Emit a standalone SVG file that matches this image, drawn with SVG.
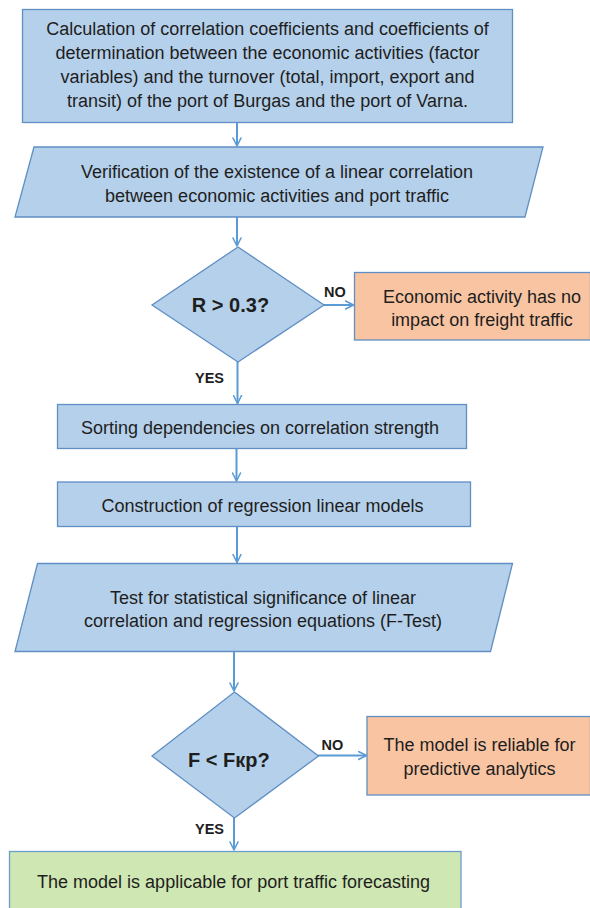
<svg xmlns="http://www.w3.org/2000/svg" width="590" height="908" viewBox="0 0 590 908">
<style>
.blue{fill:#b5d0ea;stroke:#5f8fc4;stroke-width:1.3}
.orange{fill:#f8c4a2;stroke:#5f8fc4;stroke-width:1.3}
.green{fill:#cfe7b2;stroke:#6c9bd0;stroke-width:1.3}
.t{font-family:"Liberation Sans",Arial,sans-serif;font-size:18px;fill:#1e1e1e;text-anchor:middle}
.d{font-family:"Liberation Sans",Arial,sans-serif;font-size:20px;font-weight:bold;fill:#1e1e1e;text-anchor:middle}
.l{font-family:"Liberation Sans",Arial,sans-serif;font-size:14.5px;font-weight:bold;fill:#1e1e1e}
.c{stroke:#5b9bd5;stroke-width:2;fill:none}
</style>
<defs>
<marker id="arr" viewBox="0 0 10 10" refX="9" refY="5" markerWidth="5" markerHeight="5" orient="auto" markerUnits="strokeWidth">
<polyline points="1,1 9,5 1,9" fill="none" stroke="#5b9bd5" stroke-width="1.6" stroke-linecap="round" stroke-linejoin="round"/>
</marker>
</defs>
<g id="connectors">
<line class="c" x1="237" y1="123" x2="237" y2="146" marker-end="url(#arr)"/>
<line class="c" x1="237" y1="217" x2="237" y2="246" marker-end="url(#arr)"/>
<line class="c" x1="324" y1="305" x2="353.5" y2="305" marker-end="url(#arr)"/>
<line class="c" x1="237.5" y1="362" x2="237.5" y2="403.5" marker-end="url(#arr)"/>
<line class="c" x1="236.5" y1="448.5" x2="236.5" y2="481" marker-end="url(#arr)"/>
<line class="c" x1="237" y1="527" x2="237" y2="562.5" marker-end="url(#arr)"/>
<line class="c" x1="234" y1="652" x2="234" y2="691" marker-end="url(#arr)"/>
<line class="c" x1="318" y1="755.5" x2="366.5" y2="755.5" marker-end="url(#arr)"/>
<line class="c" x1="234" y1="818" x2="234" y2="850" marker-end="url(#arr)"/>
<text class="l" x="324" y="297">NO</text>
<text class="l" x="195" y="383">YES</text>
<text class="l" x="321.5" y="750">NO</text>
<text class="l" x="195" y="834">YES</text>
</g>
<g id="n1">
<rect class="blue" x="22.5" y="9.5" width="490" height="113"/>
<text class="t" x="267.5" y="34.5">Calculation of correlation coefficients and coefficients of</text>
<text class="t" x="267.5" y="58.5">determination between the economic activities (factor</text>
<text class="t" x="267.5" y="82.5">variables) and the turnover (total, import, export and</text>
<text class="t" x="267.5" y="106.5">transit) of the port of Burgas and the port of Varna.</text>
</g>
<g id="n2">
<polygon class="blue" points="34,147 543,147 525,217 15,217"/>
<text class="t" x="277" y="178">Verification of the existence of a linear correlation</text>
<text class="t" x="277" y="201.5">between economic activities and port traffic</text>
</g>
<g id="n3">
<polygon class="blue" points="238,247 324,305 238,362 152,305"/>
<text class="d" x="230.5" y="312">R &gt; 0.3?</text>
</g>
<g id="n4">
<rect class="orange" x="354.5" y="272.5" width="236" height="67.5"/>
<text class="t" x="482" y="302.5">Economic activity has no</text>
<text class="t" x="482" y="325.5">impact on freight traffic</text>
</g>
<g id="n5">
<rect class="blue" x="57.5" y="404.5" width="409" height="44"/>
<text class="t" x="260" y="433.5">Sorting dependencies on correlation strength</text>
</g>
<g id="n6">
<rect class="blue" x="57.5" y="482" width="413" height="44.5"/>
<text class="t" x="262.5" y="511.5">Construction of regression linear models</text>
</g>
<g id="n7">
<polygon class="blue" points="37.5,563.5 512.5,563.5 490.5,651.5 15,651.5"/>
<text class="t" x="263" y="603.5">Test for statistical significance of linear</text>
<text class="t" x="263" y="626.5">correlation and regression equations (F-Test)</text>
</g>
<g id="n8">
<polygon class="blue" points="234.5,692 318.5,756 234.5,818 152,756"/>
<text class="d" x="228.8" y="767">F &lt; Fкр?</text>
</g>
<g id="n9">
<rect class="orange" x="367" y="716.5" width="223.5" height="78.5"/>
<text class="t" x="479.5" y="750.5">The model is reliable for</text>
<text class="t" x="479.5" y="774.5">predictive analytics</text>
</g>
<g id="n10">
<rect class="green" x="9.5" y="851.5" width="451.5" height="70"/>
<text class="t" x="233.5" y="888">The model is applicable for port traffic forecasting</text>
</g>
</svg>
